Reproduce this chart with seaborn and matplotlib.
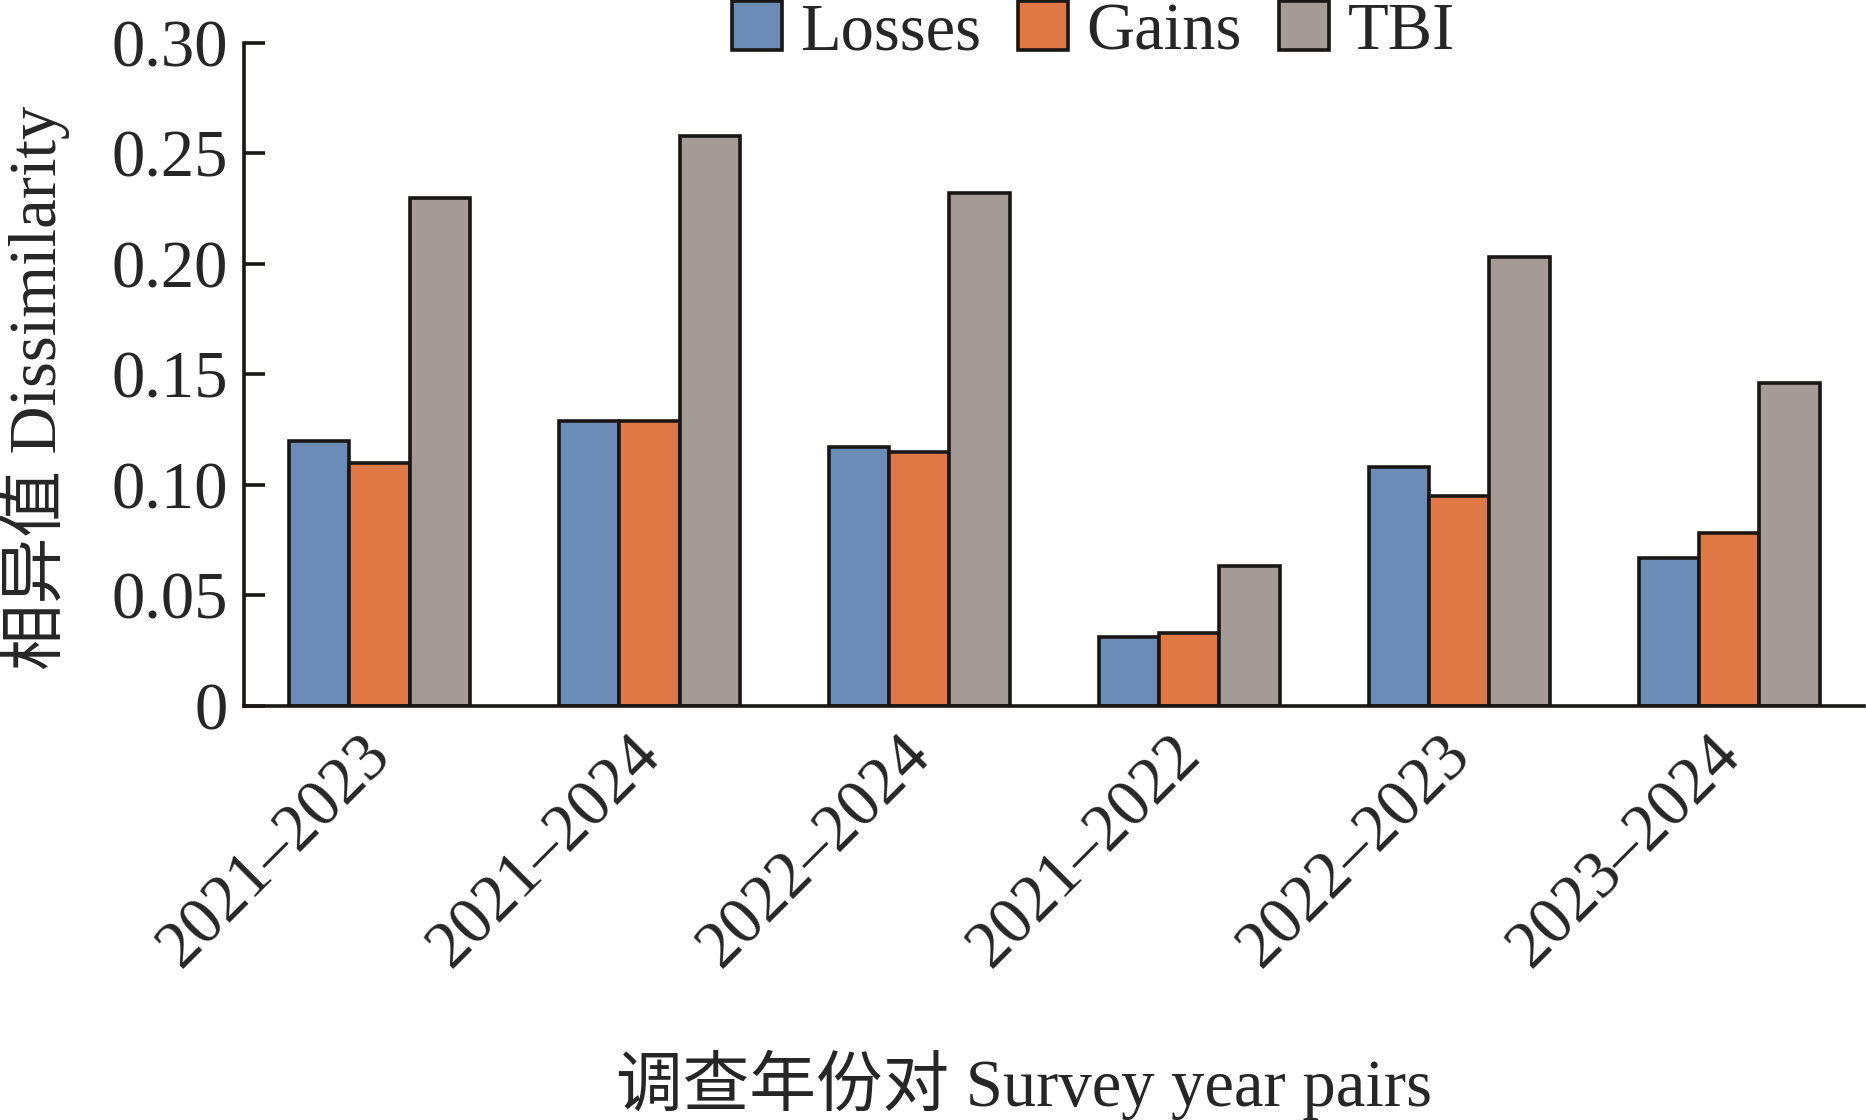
import matplotlib
matplotlib.use("Agg")
import matplotlib.pyplot as plt
import matplotlib.transforms as mtransforms
import seaborn as sns
import pandas as pd

categories = ["2021–2023", "2021–2024", "2022–2024", "2021–2022", "2022–2023", "2023–2024"]
losses = [0.120, 0.129, 0.117, 0.031, 0.108, 0.067]
gains = [0.110, 0.129, 0.115, 0.033, 0.095, 0.078]
tbi = [0.230, 0.258, 0.232, 0.063, 0.203, 0.146]
series_names = ["Losses", "Gains", "TBI"]
colors = ["#6B8CB6", "#E07846", "#A49B96"]
ytick_vals = [0, 0.05, 0.10, 0.15, 0.20, 0.25, 0.30]
ytick_labels = ["0", "0.05", "0.10", "0.15", "0.20", "0.25", "0.30"]

rows = []
for name, vals in zip(series_names, [losses, gains, tbi]):
    for c, v in zip(categories, vals):
        rows.append({"pair": c, "series": name, "value": v})
df = pd.DataFrame(rows)

sns.set_theme(style="white")
plt.rcParams["font.family"] = ["Liberation Serif", "Noto Sans CJK SC"]
plt.rcParams["axes.unicode_minus"] = False

fig = plt.figure(figsize=(18.66, 11.2), dpi=100)
ax = fig.add_axes([0.131, 0.370, 0.868, 0.5916])

sns.barplot(data=df, x="pair", y="value", hue="series", order=categories,
            hue_order=series_names, palette=colors, width=0.67,
            edgecolor="#1A1614", linewidth=2.6, saturation=1, ax=ax)

ax.set_xlim(-0.5, 5.5)
ax.set_ylim(0, 0.30)
ax.set_yticks(ytick_vals)
ax.set_yticklabels(ytick_labels)
for s in ["top", "right"]:
    ax.spines[s].set_visible(False)
for s in ["left", "bottom"]:
    ax.spines[s].set_color("#1A1614")
    ax.spines[s].set_linewidth(2.6)

ax.tick_params(axis="y", direction="in", length=15, width=2.6, color="#1A1614",
               labelsize=48, pad=12, left=True)
ax.tick_params(axis="x", length=0, labelsize=48, pad=14)
offset = mtransforms.ScaledTranslation(-20 / 100, 0, fig.dpi_scale_trans)
for lab in ax.get_xticklabels():
    lab.set_rotation(45)
    lab.set_ha("right")
    lab.set_rotation_mode("anchor")
    lab.set_transform(lab.get_transform() + offset)

ax.set_ylabel("相异值 Dissimilarity", fontsize=48)
ax.yaxis.set_label_coords(-0.108, 0.48)
ax.set_xlabel("调查年份对 Survey year pairs", fontsize=48)
ax.xaxis.set_label_coords(0.481, -0.52)

leg = ax.legend(loc="upper center", bbox_to_anchor=(0.524, 1.103), ncol=3,
                frameon=False, fontsize=48, handlelength=0.75, handleheight=0.75,
                handletextpad=0.28, columnspacing=0.55, borderaxespad=0)
for h in leg.legend_handles:
    h.set_edgecolor("#1A1614")
    h.set_linewidth(2.6)

fig.savefig("out.png", dpi=100)
